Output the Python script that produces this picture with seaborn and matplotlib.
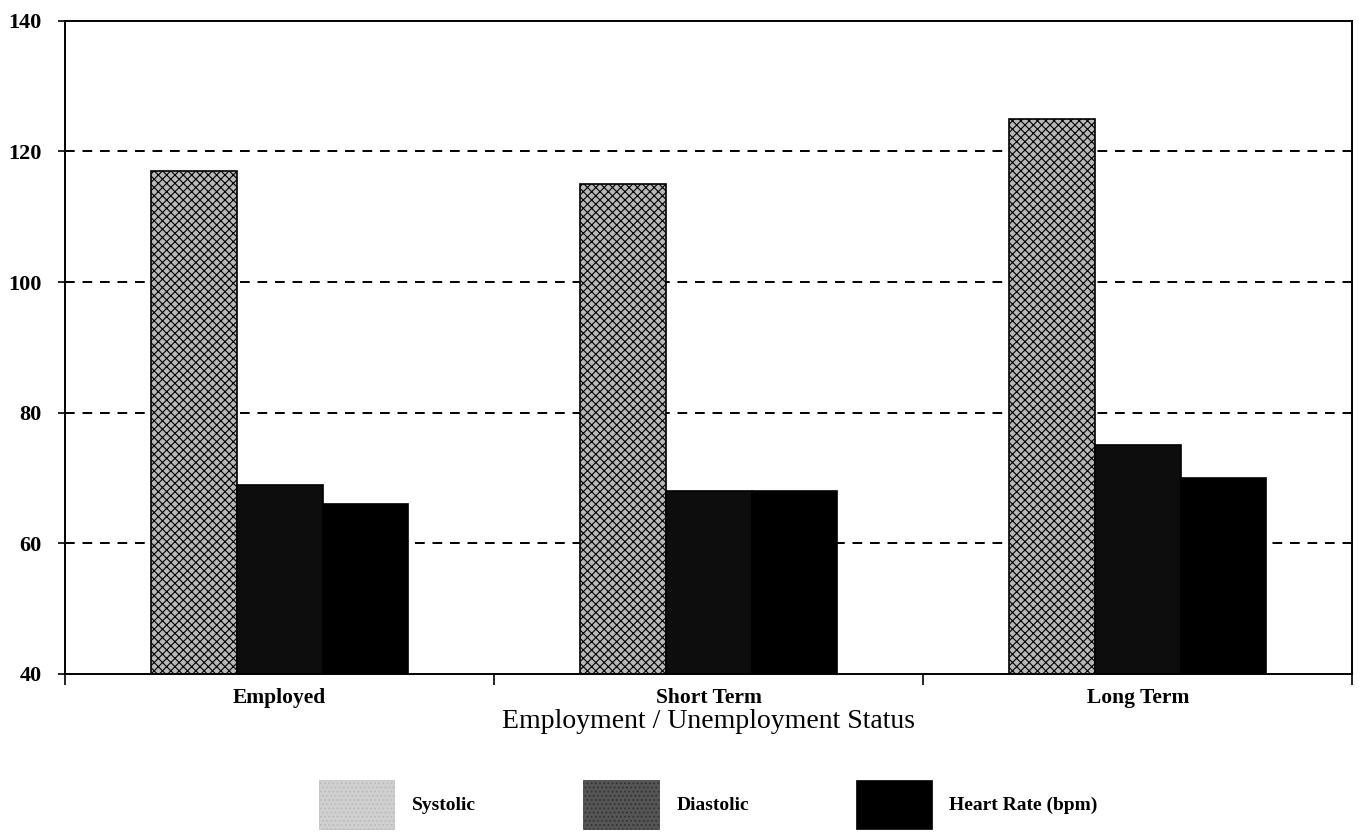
import matplotlib
matplotlib.use("Agg")
import matplotlib.pyplot as plt
from matplotlib.patches import Patch
import seaborn as sns
import pandas as pd

categories = ["Employed", "Short Term", "Long Term"]
series = ["Systolic", "Diastolic", "Heart Rate (bpm)"]
systolic = [117, 115, 125]
diastolic = [69, 68, 75]
heart_rate = [66, 68, 70]
y_ticks = [40, 60, 80, 100, 120, 140]

rows = []
for name, vals in zip(series, [systolic, diastolic, heart_rate]):
    for c, v in zip(categories, vals):
        rows.append({"status": c, "measure": name, "value": v})
df = pd.DataFrame(rows)

sns.set_theme(style="white")
plt.rcParams["font.family"] = ["Liberation Serif", "DejaVu Serif"]
plt.rcParams["hatch.linewidth"] = 0.8
plt.rcParams["text.color"] = "black"
plt.rcParams["xtick.color"] = "black"
plt.rcParams["ytick.color"] = "black"
plt.rcParams["axes.labelcolor"] = "black"

bar_colors = {"Systolic": "#b8b8b8", "Diastolic": "#0d0d0d", "Heart Rate (bpm)": "#000000"}

fig = plt.figure(figsize=(13.59, 8.33), dpi=100)
ax = fig.add_axes([0.048, 0.191, 0.947, 0.784])

sns.barplot(data=df, x="status", y="value", hue="measure", order=categories,
            hue_order=series, palette=bar_colors, width=0.6, ax=ax,
            edgecolor="black", linewidth=1.2, legend=False, saturation=1)

# pattern on systolic bars
for bar in ax.containers[0]:
    bar.set_hatch("xxxx")

ax.set_ylim(40, 140)
ax.set_xlim(-0.5, 2.5)
ax.set_yticks(y_ticks)
ax.set_yticklabels([str(t) for t in y_ticks], fontsize=16, fontweight="bold")
ax.set_xticks(range(len(categories)))
ax.set_xticklabels(categories, fontsize=15.5, fontweight="bold")
ax.set_xticks([-0.5, 0.5, 1.5, 2.5], minor=True)
ax.tick_params(axis="x", which="major", length=0, pad=10)
ax.tick_params(axis="x", which="minor", length=8, width=1.2, color="black", direction="out", bottom=True)
ax.tick_params(axis="y", length=5, width=1.2, color="black", direction="out", left=True, pad=12)

for t in y_ticks[1:-1]:
    ax.axhline(t, color="black", linestyle=(0, (5, 4)), linewidth=1.4, zorder=0)

for s in ax.spines.values():
    s.set_visible(True)
    s.set_color("black")
    s.set_linewidth(1.4)

ax.set_ylabel("")
ax.set_xlabel("Employment / Unemployment Status", fontsize=20, labelpad=1)

handles = [
    Patch(facecolor="#d0d0d0", edgecolor="#bbbbbb", hatch="....", linewidth=0.5),
    Patch(facecolor="#555555", edgecolor="#333333", hatch="....", linewidth=0.5),
    Patch(facecolor="#000000", edgecolor="#000000", linewidth=0.5),
]
fig.legend(handles, series, loc="center", bbox_to_anchor=(0.521, 0.034), ncol=3,
           frameon=False, prop={"size": 14, "weight": "bold"},
           handlelength=3.9, handleheight=3.5, handletextpad=0.9, columnspacing=5.5)

fig.savefig("out.png", dpi=100)
